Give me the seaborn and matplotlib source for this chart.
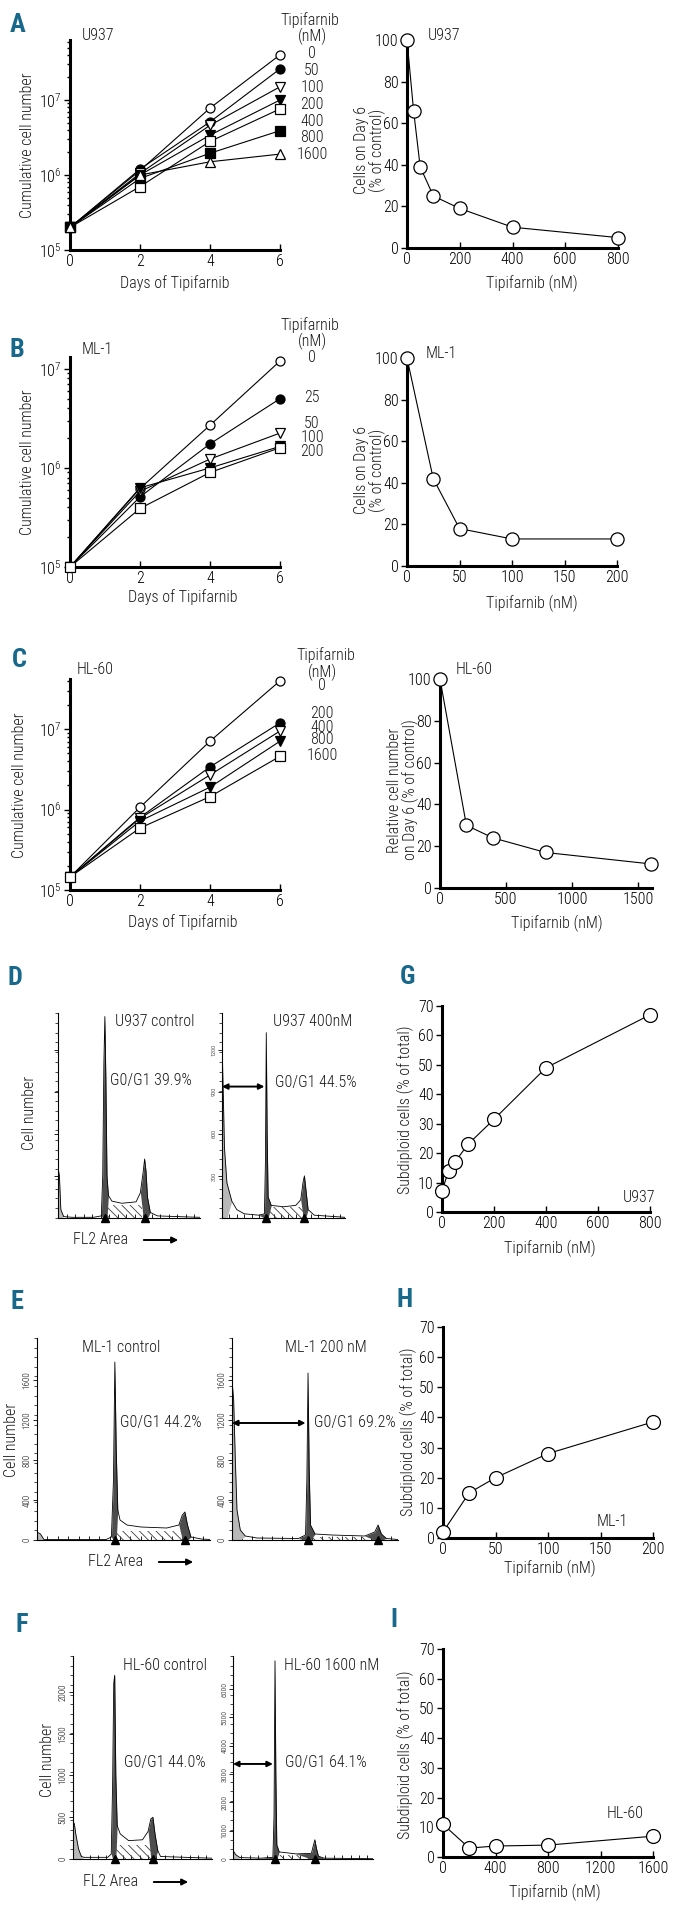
import numpy as np
import matplotlib
matplotlib.use("Agg")
import matplotlib.pyplot as plt
import seaborn as sns

sns.set_style("ticks")
plt.rcParams['font.family'] = ['Roboto Condensed', 'DejaVu Sans']
plt.rcParams['font.weight'] = 'light'
plt.rcParams['mathtext.fontset'] = 'custom'
plt.rcParams['mathtext.rm'] = 'Roboto Condensed:light'
plt.rcParams['axes.edgecolor'] = 'black'
plt.rcParams['xtick.color'] = 'black'
plt.rcParams['ytick.color'] = 'black'
plt.rcParams['text.color'] = '#1a1a1a'
plt.rcParams['hatch.linewidth'] = 0.6

# ---- growth curves (panels A-C) ----
days = [0, 2, 4, 6]

u937_doses = ['0', '50', '100', '200', '400', '800', '1600']
u937_cells = [
    [2.0e5, 1.15e6, 7.8e6, 4.0e7],
    [2.0e5, 1.2e6, 5.1e6, 2.6e7],
    [2.0e5, 1.05e6, 4.6e6, 1.5e7],
    [2.0e5, 1.0e6, 3.4e6, 1.0e7],
    [2.0e5, 0.7e6, 2.8e6, 7.6e6],
    [2.0e5, 0.9e6, 1.95e6, 3.9e6],
    [2.0e5, 1.0e6, 1.5e6, 1.9e6],
]
ml1_doses = ['0', '25', '50', '100', '200']
ml1_cells = [
    [1.0e5, 6.2e5, 2.7e6, 1.2e7],
    [1.0e5, 5.1e5, 1.75e6, 5.0e6],
    [1.0e5, 5.8e5, 1.23e6, 2.25e6],
    [1.0e5, 6.3e5, 1.0e6, 1.65e6],
    [1.0e5, 3.9e5, 0.9e6, 1.6e6],
]
hl60_doses = ['0', '200', '400', '800', '1600']
hl60_cells = [
    [1.45e5, 1.07e6, 7.1e6, 4.0e7],
    [1.45e5, 0.8e6, 3.4e6, 1.2e7],
    [1.45e5, 0.78e6, 2.7e6, 9.5e6],
    [1.45e5, 0.72e6, 1.9e6, 7.1e6],
    [1.45e5, 0.59e6, 1.45e6, 4.6e6],
]

# ---- day 6 dose response ----
u937_d6_x = [0, 25, 50, 100, 200, 400, 800]
u937_d6_y = [100, 66, 39, 25, 19, 10, 5]
ml1_d6_x = [0, 25, 50, 100, 200]
ml1_d6_y = [100, 42, 18, 13, 13]
hl60_d6_x = [0, 200, 400, 800, 1600]
hl60_d6_y = [100, 30, 24, 17, 11.5]

# ---- subdiploid cells (panels G-I) ----
u937_sub_x = [0, 25, 50, 100, 200, 400, 800]
u937_sub_y = [7, 14, 17, 23, 31.5, 49, 67]
ml1_sub_x = [0, 25, 50, 100, 200]
ml1_sub_y = [2, 15, 20, 28, 38.5]
hl60_sub_x = [0, 200, 400, 800, 1600]
hl60_sub_y = [11, 3, 3.7, 4, 7]

# ---- DNA histograms (panels D-F), channel 0-100 ----
d_ctrl_ch = [0, 1, 2, 4, 10, 25, 30.5, 31.5, 32.3, 33, 33.7, 34.5, 35.5, 38, 45, 55, 58, 60, 61, 62, 63, 65, 70, 90, 100]
d_ctrl_n = [360, 300, 60, 10, 5, 5, 15, 300, 1100, 1435, 1000, 300, 160, 120, 105, 115, 180, 330, 420, 330, 150, 40, 15, 8, 5]
d_trt_ch = [0, 1, 2, 4, 8, 12, 18, 30, 34.5, 35.3, 36, 36.7, 37.5, 40, 50, 60, 64, 66, 67, 68, 70, 75, 100]
d_trt_n = [1250, 900, 500, 250, 120, 60, 30, 20, 30, 400, 1320, 600, 150, 90, 80, 90, 130, 260, 300, 220, 60, 20, 5]
e_ctrl_ch = [0, 2, 4, 40, 43, 44.2, 45, 45.8, 46.7, 48, 52, 60, 75, 82, 84, 85.5, 87, 89, 95, 100]
e_ctrl_n = [80, 60, 5, 5, 30, 600, 1780, 900, 300, 200, 150, 130, 120, 150, 250, 280, 150, 30, 10, 5]
e_trt_ch = [0, 1, 2, 3, 5, 8, 15, 40, 44.3, 45.1, 45.8, 46.5, 47.3, 50, 60, 80, 86, 88, 90, 93, 100]
e_trt_n = [1600, 1400, 800, 300, 100, 40, 20, 15, 50, 600, 1670, 700, 150, 60, 50, 40, 80, 150, 60, 15, 5]
f_ctrl_ch = [0, 1, 2, 4, 6, 8, 25, 27.5, 28.5, 29.3, 30, 30.8, 31.8, 34, 40, 50, 54, 56, 57.5, 59, 61, 63, 90, 100]
f_ctrl_n = [450, 420, 300, 120, 30, 20, 20, 60, 900, 2100, 2200, 1000, 400, 300, 220, 230, 330, 480, 500, 300, 100, 30, 15, 10]
f_trt_ch = [0, 2, 5, 20, 28.5, 29.3, 30, 30.6, 31.3, 33, 45, 56, 57.5, 58.5, 59.5, 61, 65, 100]
f_trt_n = [300, 150, 50, 30, 60, 1500, 7000, 3000, 500, 250, 180, 200, 500, 680, 400, 100, 30, 10]

W, H = 680, 1907
FS = 11.5
TEAL = '#17688a'
fig = plt.figure(figsize=(W / 100, H / 100), dpi=100)


def box(x0, y0, x1, y1):
    return fig.add_axes([x0 / W, 1 - y1 / H, (x1 - x0) / W, (y1 - y0) / H])


def ftext(x, y, s, **kw):
    kw.setdefault('fontsize', FS)
    kw.setdefault('va', 'center')
    fig.text(x / W, 1 - y / H, s, **kw)


def letter(x, y, s):
    ftext(x, y, s, fontsize=19, fontweight='bold', color=TEAL, ha='center')


def style_line(ax):
    sns.despine(ax=ax)
    for s in ['left', 'bottom']:
        ax.spines[s].set_linewidth(2.2)
    ax.tick_params(axis='x', direction='in', length=4, width=1, labelsize=FS, pad=3)
    ax.tick_params(axis='y', which='both', direction='out', width=1, labelsize=FS, pad=2)
    ax.tick_params(axis='y', which='major', length=4)
    ax.tick_params(axis='y', which='minor', length=2.5)
    ax.set_xlabel('')
    ax.set_ylabel('')


# growth curve styles
filled = dict(markerfacecolor='black', markeredgecolor='black')
opened = dict(markerfacecolor='white', markeredgecolor='black')
u937_mk = [('o', opened), ('o', filled), ('v', opened), ('v', filled), ('s', opened), ('s', filled), ('^', opened)]
ml1_mk = [('o', opened), ('o', filled), ('v', opened), ('v', filled), ('s', opened)]
hl60_mk = [('o', opened), ('o', filled), ('v', opened), ('v', filled), ('s', opened)]


def growth(ax, cells, marks, top):
    for vals, (m, fc) in zip(cells, marks):
        sns.lineplot(x=days, y=vals, ax=ax, color='black', lw=0.8, marker=m, ms=6.5,
                     mew=0.9, clip_on=False, zorder=3, **fc)
    ax.set_yscale('log')
    ax.set_ylim(1e5, top)
    ax.set_xlim(0, 6)
    ax.set_xticks(days)
    ax.set_yticks([1e5, 1e6, 1e7])
    style_line(ax)


def response(ax, x, y, xmax, xt, ymax, yt, ms=9.5):
    sns.lineplot(x=x, y=y, ax=ax, color='black', lw=0.8, marker='o', ms=ms, mew=0.9,
                 markerfacecolor='white', markeredgecolor='black', clip_on=False, zorder=3)
    ax.set_xlim(0, xmax)
    ax.set_ylim(0, ymax)
    ax.set_xticks(xt)
    ax.set_yticks(yt)
    style_line(ax)


# ---------- row A ----------
ax = box(70, 40, 280, 250)
growth(ax, u937_cells, u937_mk, 10 ** 7.8)
ftext(82, 35, 'U937')
ftext(28, 145, 'Cumulative cell number', rotation=90, ha='center')
ftext(175, 283, 'Days of Tipifarnib', ha='center')
ftext(310, 20, 'Tipifarnib', ha='center')
ftext(312, 36, '(nM)', ha='center')
for i, d in enumerate(u937_doses):
    ftext(312, 54 + i * 16.8, d, ha='center')
letter(18, 25, 'A')

ax = box(407, 40, 618, 248)
response(ax, u937_d6_x, u937_d6_y, 800, [0, 200, 400, 600, 800], 100, [0, 20, 40, 60, 80, 100])
ftext(428, 35, 'U937')
ftext(370, 150, 'Cells on Day 6\n(% of control)', rotation=90, ha='center', linespacing=0.95)
ftext(532, 283, 'Tipifarnib (nM)', ha='center')

# ---------- row B ----------
ax = box(70, 357, 280, 567)
growth(ax, ml1_cells, ml1_mk, 10 ** 7.12)
ftext(82, 350, 'ML-1')
ftext(28, 462, 'Cumulative cell number', rotation=90, ha='center')
ftext(183, 597, 'Days of Tipifarnib', ha='center')
ftext(310, 325, 'Tipifarnib', ha='center')
ftext(312, 341, '(nM)', ha='center')
for d, y in zip(ml1_doses, [358, 398, 424, 438, 452]):
    ftext(312, y, d, ha='center')
letter(17, 350, 'B')

ax = box(407, 358, 617, 566)
response(ax, ml1_d6_x, ml1_d6_y, 200, [0, 50, 100, 150, 200], 100, [0, 20, 40, 60, 80, 100])
ftext(426, 353, 'ML-1')
ftext(370, 470, 'Cells on Day 6\n(% of control)', rotation=90, ha='center', linespacing=0.95)
ftext(532, 603, 'Tipifarnib (nM)', ha='center')

# ---------- row C ----------
ax = box(70, 679, 280, 890)
growth(ax, hl60_cells, hl60_mk, 10 ** 7.625)
ftext(77, 670, 'HL-60')
ftext(20, 785, 'Cumulative cell number', rotation=90, ha='center')
ftext(183, 922, 'Days of Tipifarnib', ha='center')
ftext(326, 655, 'Tipifarnib', ha='center')
ftext(322, 672, '(nM)', ha='center')
for d, y in zip(hl60_doses, [686, 714, 727, 740, 756]):
    ftext(322, y, d, ha='center')
letter(19, 660, 'C')

ax = box(440, 679, 652, 888)
response(ax, hl60_d6_x, hl60_d6_y, 1606, [0, 500, 1000, 1500], 100, [0, 20, 40, 60, 80, 100])
ftext(456, 670, 'HL-60')
ftext(403, 790, 'Relative cell number\non Day 6 (% of control)', rotation=90, ha='center',
      linespacing=0.95)
ftext(557, 923, 'Tipifarnib (nM)', ha='center')

# ---------- G / H / I ----------
ax = box(442, 1006, 650, 1212)
response(ax, u937_sub_x, u937_sub_y, 800, [0, 200, 400, 600, 800], 70, range(0, 71, 10), ms=10)
ftext(623, 1197, 'U937')
ftext(405, 1110, 'Subdiploid cells (% of total)', rotation=90, ha='center')
ftext(550, 1248, 'Tipifarnib (nM)', ha='center')
letter(407, 977, 'G')

ax = box(443, 1327, 653, 1538)
response(ax, ml1_sub_x, ml1_sub_y, 200, [0, 50, 100, 150, 200], 70, range(0, 71, 10), ms=10)
ftext(597, 1522, 'ML-1')
ftext(408, 1432, 'Subdiploid cells (% of total)', rotation=90, ha='center')
ftext(550, 1568, 'Tipifarnib (nM)', ha='center')
letter(405, 1300, 'H')

ax = box(443, 1649, 653, 1857)
response(ax, hl60_sub_x, hl60_sub_y, 1600, [0, 400, 800, 1200, 1600], 70, range(0, 71, 10), ms=10)
ftext(607, 1813, 'HL-60')
ftext(405, 1755, 'Subdiploid cells (% of total)', rotation=90, ha='center')
ftext(555, 1892, 'Tipifarnib (nM)', ha='center')
letter(394, 1620, 'I')


# ---------- DNA histograms ----------
def histo(ax, ch, n, g1, g2, s_lvl, sub_end, ymax, yt, show_labels=True, lsize=6.5):
    ch = np.asarray(ch, float)
    n = np.asarray(n, float)
    ax.fill_between(ch, n, where=ch <= sub_end, color='0.72', lw=0, interpolate=True)
    ax.fill_between([g1 + 1.2, g2 - 1.5], 0, s_lvl, facecolor='none', edgecolor='0.25',
                    hatch='\\\\\\\\', lw=0)
    ax.fill_between(ch, n, where=np.abs(ch - g1) <= 1.6, color='0.3', lw=0, interpolate=True)
    ax.fill_between(ch, n, where=np.abs(ch - g2) <= 2.5, color='0.3', lw=0, interpolate=True)
    sns.lineplot(x=ch, y=n, ax=ax, color='black', lw=0.6, sort=False)
    ax.plot([g1, g2], [0, 0], '^', color='black', ms=5.5, clip_on=False, zorder=5)
    ax.set_xlim(0, 100)
    ax.set_ylim(0, ymax)
    sns.despine(ax=ax)
    for s in ['left', 'bottom']:
        ax.spines[s].set_linewidth(0.8)
    ax.set_xticks(np.arange(0, 101, 6))
    ax.set_xticklabels([])
    ax.tick_params(axis='x', direction='in', length=3, width=0.6)
    ax.set_yticks(yt)
    ax.set_yticks(np.linspace(0, ymax, 22), minor=True)
    if show_labels:
        ax.set_yticklabels([str(v) for v in yt], rotation=90, va='center', fontsize=lsize)
    else:
        ax.set_yticklabels([])
    ax.tick_params(axis='y', which='major', direction='out', length=3, width=0.6, pad=1)
    ax.tick_params(axis='y', which='minor', direction='out', length=2, width=0.5)
    ax.set_xlabel('')
    ax.set_ylabel('')


def flarrow(ax, ymid, g1):
    ax.annotate('', xy=(g1 - 1.5, ymid), xytext=(0, ymid),
                arrowprops=dict(arrowstyle='<|-|>', color='black', lw=1.4,
                                mutation_scale=8, shrinkA=0, shrinkB=0))


def fl2(x0, y):
    ftext(x0, y, 'FL2 Area')
    fig.add_artist(matplotlib.patches.FancyArrowPatch(
        ((x0 + 68) / W, 1 - y / H), ((x0 + 108) / W, 1 - y / H), transform=fig.transFigure,
        arrowstyle='-|>', mutation_scale=9, lw=1.4, color='black'))


# D
ax = box(58, 1013, 200, 1218)
histo(ax, d_ctrl_ch, d_ctrl_n, 33, 61, 95, 3, 1460, [300, 600, 900, 1200], show_labels=False)
ax = box(222, 1013, 345, 1218)
histo(ax, d_trt_ch, d_trt_n, 36, 67, 75, 6, 1460, [300, 600, 900, 1200], lsize=4.5)
flarrow(ax, 936, 36)
ftext(115, 1022, 'U937 control')
ftext(110, 1080, 'G0/G1 39.9%')
ftext(273, 1022, 'U937 400nM')
ftext(275, 1082, 'G0/G1 44.5%')
ftext(30, 1113, 'Cell number', rotation=90, ha='center')
fl2(73, 1240)
letter(15, 978, 'D')

# E
ax = box(37, 1338, 210, 1540)
histo(ax, e_ctrl_ch, e_ctrl_n, 45, 85.5, 95, 3, 2020, [0, 400, 800, 1200, 1600])
ax = box(232, 1338, 398, 1540)
histo(ax, e_trt_ch, e_trt_n, 45.8, 88, 35, 5, 2020, [0, 400, 800, 1200, 1600])
flarrow(ax, 1170, 45.8)
ftext(82, 1347, 'ML-1 control')
ftext(120, 1422, 'G0/G1 44.2%')
ftext(285, 1347, 'ML-1 200 nM')
ftext(314, 1422, 'G0/G1 69.2%')
ftext(12, 1440, 'Cell number', rotation=90, ha='center')
fl2(88, 1562)
letter(17, 1302, 'E')

# F
ax = box(73, 1656, 212, 1859)
histo(ax, f_ctrl_ch, f_ctrl_n, 30, 57.5, 170, 6, 2430, [0, 500, 1000, 1500, 2000])
ax = box(233, 1656, 373, 1859)
histo(ax, f_trt_ch, f_trt_n, 30, 58.5, 150, 4, 7170, [0, 1000, 2000, 3000, 4000, 5000, 6000],
      lsize=5.5)
flarrow(ax, 3357, 30)
ftext(123, 1665, 'HL-60 control')
ftext(124, 1763, 'G0/G1 44.0%')
ftext(284, 1665, 'HL-60 1600 nM')
ftext(285, 1763, 'G0/G1 64.1%')
ftext(48, 1760, 'Cell number', rotation=90, ha='center')
fl2(83, 1882)
letter(22, 1625, 'F')

fig.savefig('out.png', dpi=100)
